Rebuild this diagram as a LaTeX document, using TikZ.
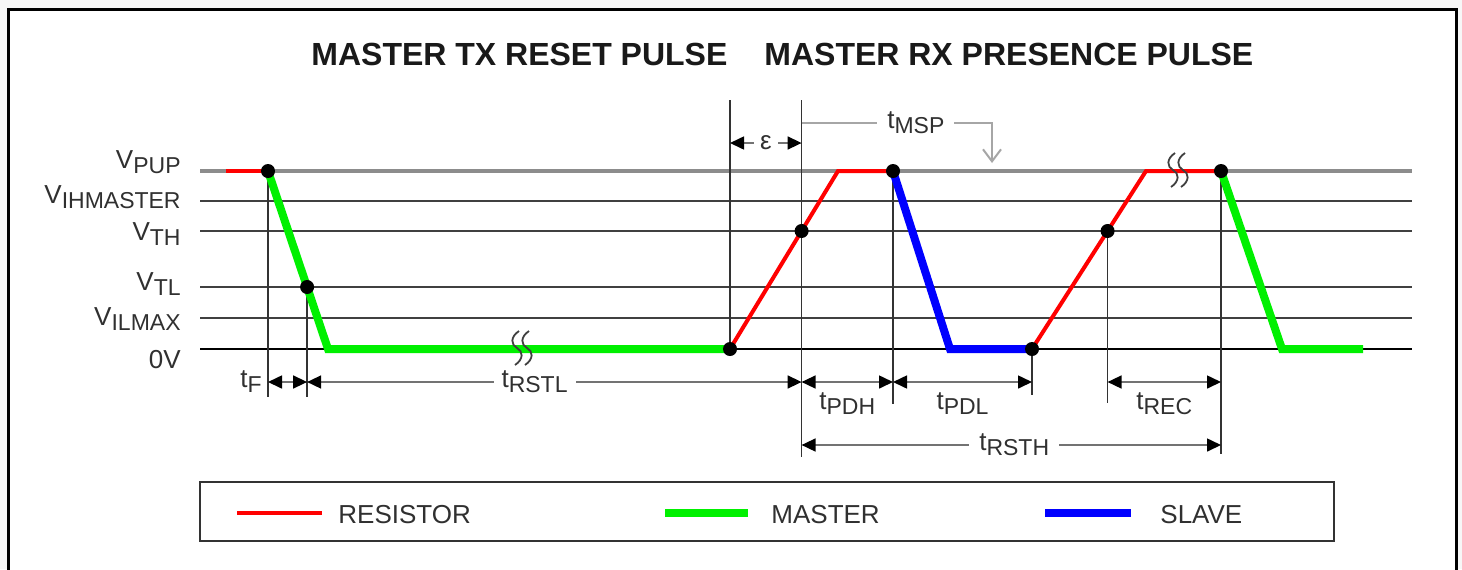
\documentclass[tikz,border=0pt]{standalone}
\usepackage{fontspec}
\setmainfont{Liberation Sans}
\usetikzlibrary{arrows.meta, calc}
\definecolor{txt}{HTML}{303030}
\definecolor{wavegreen}{HTML}{00F000}
\newcommand{\sig}[2]{#1\raisebox{-2.5pt}{\fontsize{11.5}{12}\selectfont #2}}

\begin{document}
\begin{tikzpicture}[x=0.5pt, y=-0.5pt,
  lvl/.style={draw=black!75, line width=1.2pt},
  ext/.style={draw=black!80, line width=0.8pt},
  dimtip/.tip={Triangle[length=7pt, width=6.5pt, color=black]},
  dim/.style={draw=black!55, line width=0.8pt, dimtip-dimtip},
  lbl/.style={text=txt, font=\fontsize{13}{15}\selectfont, inner sep=1pt},
  ttl/.style={text=black!90, font=\fontsize{16}{18}\selectfont\bfseries, inner sep=0pt},
  dot/.style={circle, fill=black, inner sep=0pt, minimum size=7pt},
  res/.style={draw=red, line width=2pt},
  mst/.style={draw=wavegreen, line width=4pt},
  slv/.style={draw=blue, line width=4pt},
  brk/.pic={
    \foreach \dx in {-5,5}
      \draw[black!75, line width=0.9pt, xshift=\dx*0.5pt]
        (2,-17) .. controls (-7,-11) and (-6,-3) .. (0,0)
        .. controls (6,3) and (7,11) .. (-2,17);
  }]
\useasboundingbox (0,0) rectangle (1462,569);
\fill[black!3] (0,0) rectangle (1462,569);
\fill[white] (8,9) rectangle (1456,580);
\draw[black, line width=1.5pt] (8,580) -- (8,9) -- (1456,9) -- (1456,580);

% titles
\node[ttl, anchor=base west] (ttx) at (311,65) {MASTER TX RESET PULSE};
\node[ttl, anchor=base west] (trx) at (764,65) {MASTER RX PRESENCE PULSE};

% voltage levels
\coordinate (pup) at (200,171);
\coordinate (ih) at (200,201);
\coordinate (th) at (200,231);
\coordinate (tl) at (200,287);
\coordinate (il) at (200,318);
\coordinate (zero) at (200,349);
\draw[draw=black!45, line width=2pt] (pup) -- ++(1212,0);
\foreach \n in {ih,th,tl,il}
  \draw[lvl] (\n) -- ++(1212,0);
\draw[black, line width=1pt] (zero) -- ++(1212,0);

\node[lbl, anchor=base east] (vpup) at (183,168) {\sig{V}{PUP}};
\node[lbl, anchor=base east] (vih) at (183,203) {\sig{V}{IHMASTER}};
\node[lbl, anchor=base east] (vth) at (183,240) {\sig{V}{TH}};
\node[lbl, anchor=base east] (vtl) at (183,290) {\sig{V}{TL}};
\node[lbl, anchor=base east] (vil) at (183,325) {\sig{V}{ILMAX}};
\node[lbl, anchor=base east] (v0) at (183,368) {0V};

% waveform corners
\coordinate (r0) at (226,171);
\coordinate (a) at (268,171);
\coordinate (b) at (328,349);
\coordinate (c) at (730,349);
\coordinate (d) at (838,171);
\coordinate (e) at (893,171);
\coordinate (f) at (950,349);
\coordinate (g) at (1032,349);
\coordinate (h) at (1146,171);
\coordinate (k) at (1221,171);
\coordinate (m) at (1282,349);
\coordinate (n) at (1363,349);
\coordinate (tl1) at ($(a)!{116/178}!(b)$);
\coordinate (th1) at ($(c)!{118/178}!(d)$);
\coordinate (th2) at ($(g)!{118/178}!(h)$);

% rows of the timing marks
\coordinate (yE) at (0,143);
\coordinate (yM) at (0,123);
\coordinate (yA) at (0,382);
\coordinate (yB) at (0,445);

% extension lines
\draw[ext] (a) -- (a |- 0,397);
\draw[ext] (tl1) -- (tl1 |- 0,397);
\draw[ext] (c |- 0,100) -- (c);
\draw[ext] (th1 |- 0,100) -- (th1 |- 0,457);
\draw[ext] (e) -- (e |- 0,404);
\draw[ext] (g) -- (g |- 0,395);
\draw[ext] (th2) -- (th2 |- 0,403);
\draw[ext] (k) -- (k |- 0,454);

% bus
\draw[res] (r0) -- (a);
\draw[mst] (a) -- (b) -- (c);
\draw[res] (c) -- (d) -- (e);
\draw[slv] (e) -- (f) -- (g);
\draw[res] (g) -- (h) -- (k);
\draw[mst] (k) -- (m) -- (n);
\pic at (522,348) {brk};
\pic at (1178,170) {brk};

\foreach \p in {a,tl1,c,th1,e,g,th2,k}
  \node[dot] (dot-\p) at (\p) {};

% timing
\draw[dim] (c |- yE) -- (th1 |- yE)
  node[midway, lbl, fill=white, inner xsep=3pt] (eps) {ε};
\draw[draw=black!35, line width=1pt, -{Straight Barb[length=6pt, width=9pt]}]
  (th1 |- yM) -- (992,123)
  node[pos=0.6, lbl, fill=white, inner xsep=5pt] (tmsp) {\sig{t}{MSP}}
  -- (992,163);
\draw[dim] (a |- yA) -- (tl1 |- yA);
\node[lbl, anchor=east] (tf) at (264,382) {\sig{t}{F}};
\draw[dim] (tl1 |- yA) -- (th1 |- yA)
  node[pos=0.46, lbl, fill=white, inner xsep=4pt] (trstl) {\sig{t}{RSTL}};
\draw[dim] (th1 |- yA) -- (e |- yA)
  node[midway, below=4pt, lbl] (tpdh) {\sig{t}{PDH}};
\draw[dim] (e |- yA) -- (g |- yA)
  node[midway, below=4pt, lbl] (tpdl) {\sig{t}{PDL}};
\draw[dim] (th2 |- yA) -- (k |- yA)
  node[midway, below=4pt, lbl] (trec) {\sig{t}{REC}};
\draw[dim] (th1 |- yB) -- (k |- yB)
  node[pos=0.507, lbl, fill=white, inner xsep=5pt] (trsth) {\sig{t}{RSTH}};

% legend
\draw[black!80, line width=1.2pt] (200,482) rectangle (1334,541);
\draw[res] (237,513) -- (322,513);
\node[lbl, anchor=base west] (lres) at (336,523) {RESISTOR};
\draw[mst] (665,513) -- (748,513);
\node[lbl, anchor=base west] (lmst) at (769,523) {MASTER};
\draw[slv] (1045,513) -- (1131,513);
\node[lbl, anchor=base west] (lslv) at (1158,523) {SLAVE};
\end{tikzpicture}
\end{document}
